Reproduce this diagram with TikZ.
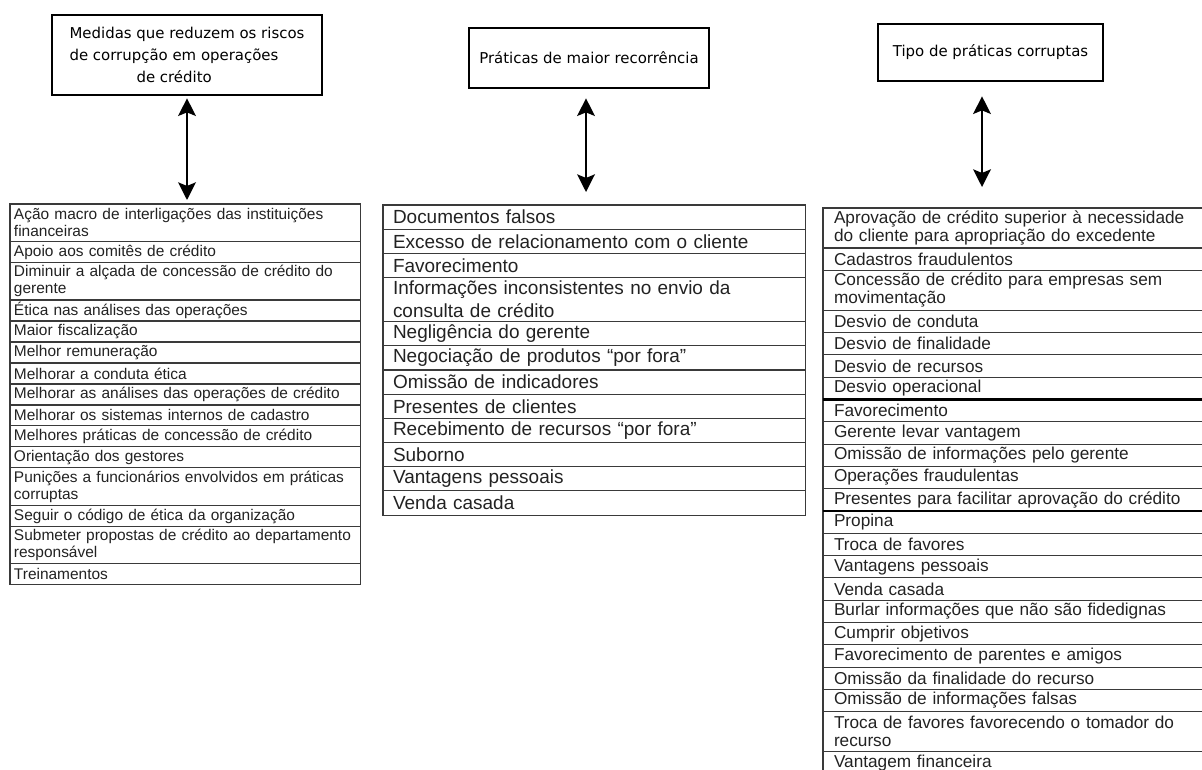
\documentclass[tikz,border=0pt]{standalone}
\usepackage{fontspec}
\setmainfont{Liberation Sans}
\newfontfamily\headfont{DejaVu Sans}
\usetikzlibrary{positioning,arrows.meta}
\definecolor{rulegray}{HTML}{3A3A3A}
\definecolor{inkgray}{HTML}{222222}
\tikzstyle{headbox}=[draw=black,line width=1.5pt,rectangle,text=black,font=\headfont\fontsize{8.5}{12.5}\selectfont]
\tikzstyle{link}=[line width=1.5pt,{Stealth[length=10pt,width=10pt,inset=2pt]}-{Stealth[length=10pt,width=10pt,inset=2pt]}]
\tikzstyle{cell}=[draw=rulegray,line width=0.6pt,rectangle,outer sep=0pt,inner ysep=0pt,align=left,text=inkgray]
\tikzstyle{leftcell}=[cell,text width=6.86cm,inner xsep=0.08cm,minimum height=0.42cm,font=\fontsize{8.8}{9.6}\selectfont]
\tikzstyle{leftcelltwo}=[leftcell,minimum height=0.75cm]
\tikzstyle{midcell}=[cell,text width=8.06cm,inner xsep=0.2cm,minimum height=0.484cm,font=\fontsize{10.8}{13}\selectfont]
\tikzstyle{midcelltwo}=[midcell,minimum height=0.88cm]
\tikzstyle{rightcell}=[cell,text width=7.4cm,inner xsep=0.22cm,minimum height=0.446cm,font=\fontsize{9.8}{10.4}\selectfont]
\tikzstyle{rightcelltwo}=[rightcell,minimum height=0.8cm]
\tikzstyle{heavyrule}=[draw=black,line width=1.3pt]
\newcommand{\newrow}[4][leftcell]{ % style, name, row above, text
	\node[#1,below=0pt of #3] (#2) {#4};
}
\begin{document}
\begin{tikzpicture}[x=0.02cm,y=-0.02cm] % one unit = one pixel of the page, y downwards
	\useasboundingbox (0,0) rectangle (1202,769);
	\clip (0,0) rectangle (1202,769);
	% the three headings
	\node[headbox,minimum width=5.4cm,minimum height=1.6cm,align=left] (hd1) at (187,55)
		{Medidas que reduzem os riscos\\de corrupção em operações\\\hspace*{1.34cm}de crédito};
	\node[headbox,minimum width=4.8cm,minimum height=1.2cm] (hd2) at (589,58) {Práticas de maior recorrência};
	\node[headbox,minimum width=4.5cm,minimum height=1.14cm] (hd3) at (990.5,52.5) {Tipo de práticas corruptas};
	% left list
	\node[leftcelltwo,anchor=north west] (t1a) at (10,204) {Ação macro de interligações das instituições\\financeiras};
	\newrow{t1b}{t1a}{Apoio aos comitês de crédito}
	\newrow[leftcelltwo]{t1c}{t1b}{Diminuir a alçada de concessão de crédito do\\gerente}
	\newrow{t1d}{t1c}{Ética nas análises das operações}
	\newrow{t1e}{t1d}{Maior fiscalização}
	\newrow{t1f}{t1e}{Melhor remuneração}
	\newrow{t1g}{t1f}{Melhorar a conduta ética}
	\newrow{t1h}{t1g}{Melhorar as análises das operações de crédito}
	\newrow{t1i}{t1h}{Melhorar os sistemas internos de cadastro}
	\newrow{t1j}{t1i}{Melhores práticas de concessão de crédito}
	\newrow{t1k}{t1j}{Orientação dos gestores}
	\newrow[leftcelltwo]{t1l}{t1k}{Punições a funcionários envolvidos em práticas\\corruptas}
	\newrow{t1m}{t1l}{Seguir o código de ética da organização}
	\newrow[leftcelltwo]{t1n}{t1m}{Submeter propostas de crédito ao departamento\\responsável}
	\newrow{t1o}{t1n}{Treinamentos}
	% middle list
	\node[midcell,anchor=north west] (t2a) at (383,205) {Documentos falsos};
	\newrow[midcell]{t2b}{t2a}{Excesso de relacionamento com o cliente}
	\newrow[midcell]{t2c}{t2b}{Favorecimento}
	\newrow[midcelltwo]{t2d}{t2c}{Informações inconsistentes no envio da\\consulta de crédito}
	\newrow[midcell]{t2e}{t2d}{Negligência do gerente}
	\newrow[midcell]{t2f}{t2e}{Negociação de produtos “por fora”}
	\newrow[midcell]{t2g}{t2f}{Omissão de indicadores}
	\newrow[midcell]{t2h}{t2g}{Presentes de clientes}
	\newrow[midcell]{t2i}{t2h}{Recebimento de recursos “por fora”}
	\newrow[midcell]{t2j}{t2i}{Suborno}
	\newrow[midcell]{t2k}{t2j}{Vantagens pessoais}
	\newrow[midcell]{t2l}{t2k}{Venda casada}
	% right list (runs off the page on the right and at the bottom)
	\node[rightcelltwo,anchor=north west] (t3a) at (823,208) {Aprovação de crédito superior à necessidade\\do cliente para apropriação do excedente};
	\newrow[rightcell]{t3b}{t3a}{Cadastros fraudulentos}
	\newrow[rightcelltwo]{t3c}{t3b}{Concessão de crédito para empresas sem\\movimentação}
	\newrow[rightcell]{t3d}{t3c}{Desvio de conduta}
	\newrow[rightcell]{t3e}{t3d}{Desvio de finalidade}
	\newrow[rightcell]{t3f}{t3e}{Desvio de recursos}
	\newrow[rightcell]{t3g}{t3f}{Desvio operacional}
	\newrow[rightcell]{t3h}{t3g}{Favorecimento}
	\newrow[rightcell]{t3i}{t3h}{Gerente levar vantagem}
	\newrow[rightcell]{t3j}{t3i}{Omissão de informações pelo gerente}
	\newrow[rightcell]{t3k}{t3j}{Operações fraudulentas}
	\newrow[rightcell]{t3l}{t3k}{Presentes para facilitar aprovação do crédito}
	\newrow[rightcell]{t3m}{t3l}{Propina}
	\newrow[rightcell]{t3n}{t3m}{Troca de favores}
	\newrow[rightcell]{t3o}{t3n}{Vantagens pessoais}
	\newrow[rightcell]{t3p}{t3o}{Venda casada}
	\newrow[rightcell]{t3q}{t3p}{Burlar informações que não são fidedignas}
	\newrow[rightcell]{t3r}{t3q}{Cumprir objetivos}
	\newrow[rightcell]{t3s}{t3r}{Favorecimento de parentes e amigos}
	\newrow[rightcell]{t3t}{t3s}{Omissão da finalidade do recurso}
	\newrow[rightcell]{t3u}{t3t}{Omissão de informações falsas}
	\newrow[rightcelltwo]{t3v}{t3u}{Troca de favores favorecendo o tomador do\\recurso}
	\newrow[rightcell]{t3w}{t3v}{Vantagem financeira}
	\draw[heavyrule] (t3h.north west) -- (t3h.north east);
	\draw[heavyrule] (t3m.north west) -- (t3m.north east);
	% arrows between headings and lists
	\draw[link,shorten <=0.04cm,shorten >=0.08cm] (hd1.south) -- (hd1.south |- t1a.north);
	\draw[link,shorten <=0.18cm,shorten >=0.26cm] ([xshift=-0.06cm]hd2.south) -- ([xshift=-0.06cm]hd2.south |- t2a.north);
	\draw[link,shorten <=0.28cm,shorten >=0.42cm] ([xshift=-0.17cm]hd3.south) -- ([xshift=-0.17cm]hd3.south |- t3a.north);
\end{tikzpicture}
\end{document}
